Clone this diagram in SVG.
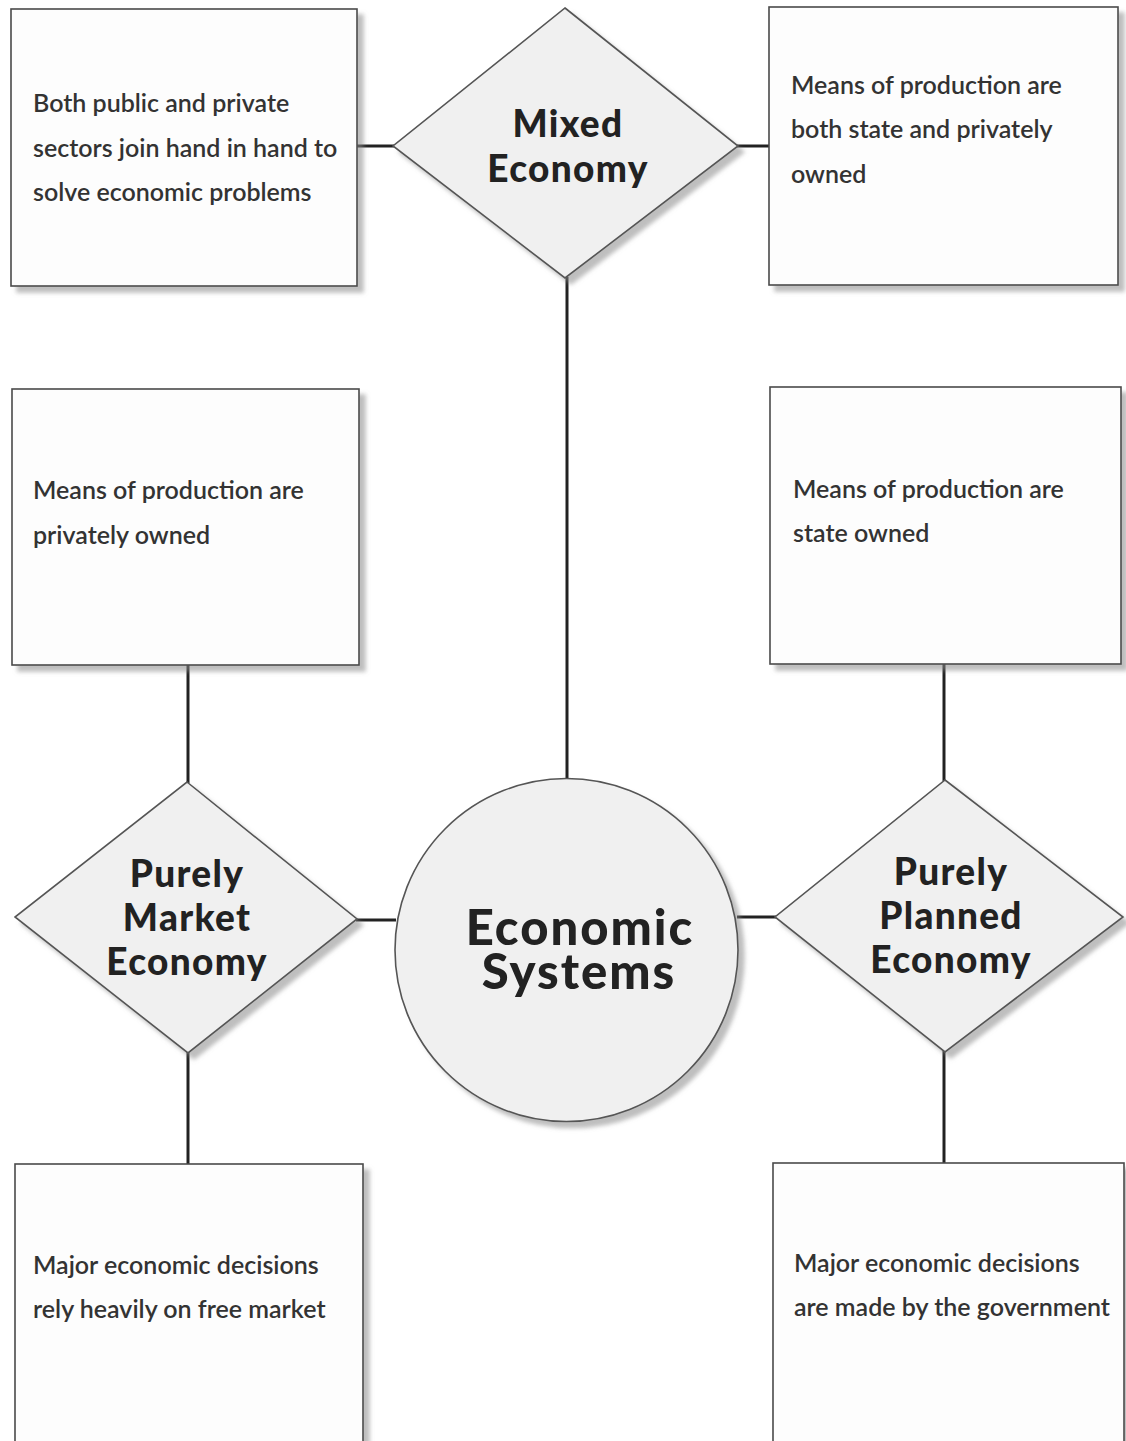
<svg xmlns="http://www.w3.org/2000/svg" width="1126" height="1441" viewBox="0 0 1126 1441">
<defs>
<filter id="shadow" x="-5%" y="-5%" width="115%" height="115%">
<feDropShadow dx="6" dy="6" stdDeviation="2" flood-color="#888" flood-opacity="0.55"/>
</filter>
<style>
.box{fill:#fdfdfd;stroke:#4a4a4a;stroke-width:1.6;filter:url(#shadow)}
.shape{fill:#f0f0f0;stroke:#555;stroke-width:1.6;filter:url(#shadow)}
.body{font-family:Lato,"Open Sans","Liberation Sans",sans-serif;font-size:25px;font-weight:600;fill:#333}
.title{font-family:Lato,"Open Sans","Liberation Sans",sans-serif;font-size:37px;font-weight:900;fill:#222;text-anchor:middle;letter-spacing:1.3px}
.big{font-family:Lato,"Open Sans","Liberation Sans",sans-serif;font-size:49px;font-weight:900;fill:#222;text-anchor:middle;letter-spacing:2px}
.conn{stroke:#222;stroke-width:3;fill:none}
</style>
</defs>
<rect width="1126" height="1441" fill="#ffffff"/>
<g id="connectors">
<line class="conn" x1="357" y1="146" x2="394" y2="146"/>
<line class="conn" x1="737" y1="146" x2="769" y2="146"/>
<line class="conn" x1="567" y1="277" x2="567" y2="779"/>
<line class="conn" x1="188" y1="665" x2="188" y2="783"/>
<line class="conn" x1="188" y1="1052" x2="188" y2="1164"/>
<line class="conn" x1="356" y1="920" x2="396" y2="920"/>
<line class="conn" x1="737" y1="917" x2="776" y2="917"/>
<line class="conn" x1="944" y1="664" x2="944" y2="781"/>
<line class="conn" x1="944" y1="1051" x2="944" y2="1163"/>
</g>
<g id="box-mixed-left">
<rect class="box" x="11" y="9" width="346" height="277"/>
<text class="body" x="33" y="112">Both public and private</text>
<text class="body" x="33" y="157">sectors join hand in hand to</text>
<text class="body" x="33" y="201">solve economic problems</text>
</g>
<g id="box-mixed-right">
<rect class="box" x="769" y="7" width="349" height="278"/>
<text class="body" x="791" y="94">Means of production are</text>
<text class="body" x="791" y="138">both state and privately</text>
<text class="body" x="791" y="183">owned</text>
</g>
<g id="box-market-top">
<rect class="box" x="12" y="389" width="347" height="276"/>
<text class="body" x="33" y="499">Means of production are</text>
<text class="body" x="33" y="544">privately owned</text>
</g>
<g id="box-planned-top">
<rect class="box" x="770" y="387" width="351" height="277"/>
<text class="body" x="793" y="498">Means of production are</text>
<text class="body" x="793" y="542">state owned</text>
</g>
<g id="box-market-bottom">
<rect class="box" x="15" y="1164" width="348" height="290"/>
<text class="body" x="33" y="1274">Major economic decisions</text>
<text class="body" x="33" y="1318">rely heavily on free market</text>
</g>
<g id="box-planned-bottom">
<rect class="box" x="773" y="1163" width="351" height="290"/>
<text class="body" x="794" y="1272">Major economic decisions</text>
<text class="body" x="794" y="1316">are made by the government</text>
</g>
<g id="mixed-economy">
<polygon class="shape" points="565,8 738,146 565,278 393,146"/>
<text class="title" x="568" y="137">Mixed</text>
<text class="title" x="568" y="182">Economy</text>
</g>
<g id="purely-market-economy">
<polygon class="shape" points="187,782 357,919 188,1053 15,917"/>
<text class="title" x="187" y="887">Purely</text>
<text class="title" x="187" y="931">Market</text>
<text class="title" x="187" y="975">Economy</text>
</g>
<g id="purely-planned-economy">
<polygon class="shape" points="945,780 1123,917 945,1052 775,917"/>
<text class="title" x="951" y="885">Purely</text>
<text class="title" x="951" y="929">Planned</text>
<text class="title" x="951" y="973">Economy</text>
</g>
<g id="economic-systems">
<circle class="shape" cx="566.5" cy="950" r="171.5"/>
<text class="big" x="580" y="945">Economic</text>
<text class="big" x="579" y="989">Systems</text>
</g>
</svg>
